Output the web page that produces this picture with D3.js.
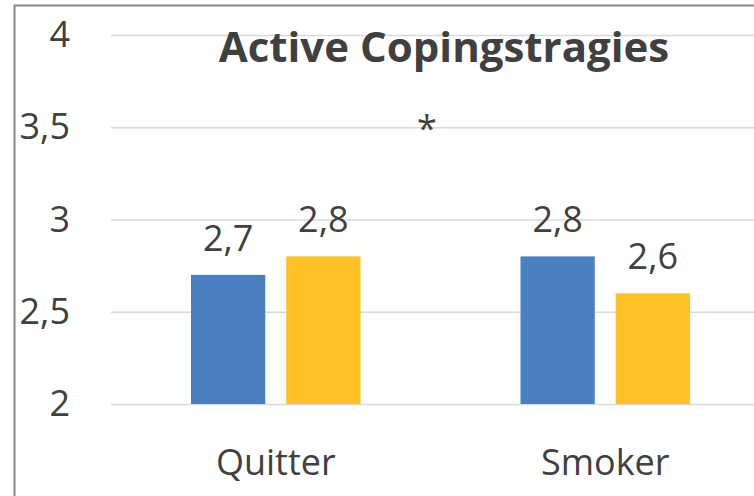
<!DOCTYPE html>
<html>
<head>
<meta charset="utf-8">
<script src="https://cdn.jsdelivr.net/npm/d3@7"></script>
<style>
  body { margin: 0; background: #fff; }
  text { font-family: "Open Sans", "DejaVu Sans", sans-serif; fill: #404040; }
</style>
</head>
<body>
<div class="chart"></div>
<script>
var categories = ["Quitter", "Smoker"];
var seriesNames = ["Series 1", "Series 2"];
var series1 = [2.7, 2.8];
var series2 = [2.8, 2.6];
var yTicks = [2, 2.5, 3, 3.5, 4];
var tickLabels = ["2", "2,5", "3", "3,5", "4"];
var title = "Active Copingstragies";
var colors = ["#4a7fc1", "#fec128"];

var svgWidth = 754;
var svgHeight = 496;

var margin = { top: 35, right: -16, bottom: 92, left: 111 };
var width = svgWidth - margin.left - margin.right;
var height = svgHeight - margin.top - margin.bottom;

var svg = d3.select(".chart")
  .append("svg")
  .attr("width", svgWidth)
  .attr("height", svgHeight);

// frame (only left and top edges show in the crop)
svg.append("path")
  .attr("d", "M14.5," + svgHeight + "V5.5H" + svgWidth)
  .attr("fill", "none")
  .attr("stroke", "#888")
  .attr("stroke-width", 2);

var chartGroup = svg.append("g")
  .attr("transform", `translate(${margin.left}, ${margin.top})`);

var data = categories.map(function(c, i) {
  return { cat: c, values: [series1[i], series2[i]] };
});

var x0 = d3.scaleBand().domain(categories).range([0, width]).paddingInner(0).paddingOuter(0);
var x1 = d3.scaleBand().domain(seriesNames).range([0, x0.bandwidth()]).paddingInner(0.22).paddingOuter(0.84);
var y = d3.scaleLinear().domain([2, 4]).range([height, 0]);

// gridlines
chartGroup.append("g")
  .selectAll("line")
  .data(yTicks)
  .enter()
  .append("line")
  .attr("x1", 0)
  .attr("x2", width)
  .attr("y1", d => y(d) + 0.5)
  .attr("y2", d => y(d) + 0.5)
  .attr("stroke", "#d9d9d9")
  .attr("stroke-width", 1.5);

// y labels
var leftAxis = d3.axisLeft(y).tickValues(yTicks).tickSize(0).tickPadding(41)
  .tickFormat((d, i) => tickLabels[i]);
var yAxisG = chartGroup.append("g").call(leftAxis);
yAxisG.select(".domain").remove();
yAxisG.selectAll("text")
  .attr("font-size", 36)
  .attr("font-family", null)
  .attr("fill", null);

// bars
var groups = chartGroup.selectAll(".grp")
  .data(data)
  .enter()
  .append("g")
  .attr("transform", d => `translate(${x0(d.cat)},0)`);

groups.selectAll("rect")
  .data(d => d.values.map((v, i) => ({ name: seriesNames[i], v: v, i: i })))
  .enter()
  .append("rect")
  .attr("x", d => x1(d.name))
  .attr("width", x1.bandwidth())
  .attr("y", d => y(d.v))
  .attr("height", d => y(2) - y(d.v))
  .attr("fill", d => colors[d.i]);

groups.selectAll(".lbl")
  .data(d => d.values.map((v, i) => ({ name: seriesNames[i], v: v })))
  .enter()
  .append("text")
  .attr("x", d => x1(d.name) + x1.bandwidth() / 2)
  .attr("y", d => y(d.v) - 24)
  .attr("text-anchor", "middle")
  .attr("font-size", 36)
  .text(d => String(d.v).replace(".", ","));

// category labels
var bottomAxis = d3.axisBottom(x0).tickSize(0).tickPadding(45);
var xAxisG = chartGroup.append("g")
  .attr("transform", `translate(0, ${height})`)
  .call(bottomAxis);
xAxisG.select(".domain").remove();
xAxisG.selectAll("text")
  .attr("font-size", 36)
  .attr("font-family", null)
  .attr("fill", null);

// title and significance mark
svg.append("text")
  .attr("x", 444)
  .attr("y", 62)
  .attr("text-anchor", "middle")
  .attr("font-size", 42)
  .attr("font-weight", "bold")
  .text(title);

svg.append("text")
  .attr("x", 427)
  .attr("y", 141)
  .attr("text-anchor", "middle")
  .attr("font-size", 36)
  .text("*");
</script>
</body>
</html>
